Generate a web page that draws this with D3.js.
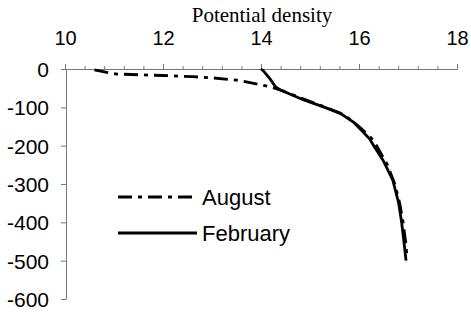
<!DOCTYPE html>
<meta charset="utf-8">
<body style="margin:0;background:#fff">
<style>
.tick text { font-family: "Liberation Sans", Arial, sans-serif; font-size: 20px; fill: #000; }
.axis path, .axis line { stroke: #777; stroke-width: 1px; }
.series { fill: none; stroke: #000; stroke-width: 2.8px; }
.legend text { font-family: "Liberation Sans", Arial, sans-serif; font-size: 22px; fill: #000; }
</style>
<script src="https://cdn.jsdelivr.net/npm/d3@7"></script>
<script>

// depth (m) and potential density for each month
var augustDepth   = [-2, -10, -13, -15, -17, -20, -23, -29, -36, -47, -55, -80, -100, -120, -150, -180, -200, -250, -300, -350, -400, -450, -490];
var augustDensity = [10.6, 10.9, 11.05, 11.5, 12.0, 12.6, 13.0, 13.5, 13.8, 14.2, 14.4, 14.9, 15.32, 15.7, 16.0, 16.25, 16.36, 16.58, 16.73, 16.83, 16.9, 16.95, 16.98];

var februaryDepth   = [0, -5, -25, -47, -55, -80, -100, -115, -140, -160, -183, -200, -238, -290, -350, -400, -454, -500];
var februaryDensity = [14.0, 14.05, 14.18, 14.3, 14.4, 14.86, 15.3, 15.61, 15.9, 16.05, 16.22, 16.3, 16.49, 16.69, 16.81, 16.87, 16.92, 16.96];

var xTicks = [10, 12, 14, 16, 18];
var yTicks = [0, -100, -200, -300, -400, -500, -600];
var seriesNames = ["August", "February"];

var width = 471, height = 314;

var svg = d3.select("body").append("svg")
    .attr("width", width)
    .attr("height", height);

var x = d3.scaleLinear().domain([10, 18]).range([65, 457]);
var y = d3.scaleLinear().domain([0, -600]).range([69, 299]);

// top axis: minor ticks every 0.4
var minor = d3.range(0, 21).map(function(i) { return 10 + i * 0.4; });
svg.append("g")
    .attr("class", "axis")
    .attr("transform", "translate(0," + y(0) + ")")
    .call(d3.axisTop(x).tickValues(minor).tickSize(3).tickFormat(""));

var xAxis = svg.append("g")
    .attr("class", "axis")
    .attr("transform", "translate(0," + y(0) + ")")
    .call(d3.axisTop(x).tickValues(xTicks).tickSize(5).tickPadding(19).tickSizeOuter(0));
xAxis.select(".domain").remove();

var yAxis = svg.append("g")
    .attr("class", "axis")
    .attr("transform", "translate(" + (x(10) + 1) + ",0)")
    .call(d3.axisLeft(y).tickValues(yTicks).tickSize(5).tickPadding(12).tickSizeOuter(0)
      .tickFormat(function(d) { return d === 0 ? "0" : "-" + Math.abs(d); }));
yAxis.selectAll(".tick text").attr("dy", "0.35em").style("font-size", "21px");
yAxis.select(".tick line").attr("x1", 0);

// axis title
svg.append("text")
    .attr("x", 262)
    .attr("y", 22)
    .attr("text-anchor", "middle")
    .style("font-family", "'Liberation Serif', 'Times New Roman', serif")
    .style("font-size", "21px")
    .text("Potential density");

var line = d3.line()
    .x(function(d) { return x(d[1]); })
    .y(function(d) { return y(d[0]); });

var aug = d3.zip(augustDepth, augustDensity);
var feb = d3.zip(februaryDepth, februaryDensity);
var dashes = ["14,6,4,6", null];

svg.append("path").datum(feb).attr("class", "series").attr("d", line);
svg.append("path").datum(aug).attr("class", "series")
    .attr("stroke-dasharray", dashes[0]).attr("d", line);

// legend
var legend = svg.append("g").attr("class", "legend");
seriesNames.forEach(function(name, i) {
  var ly = 197 + i * 36;
  legend.append("line")
      .attr("x1", 118).attr("x2", 197)
      .attr("y1", ly).attr("y2", ly)
      .attr("class", "series")
      .attr("stroke-dasharray", dashes[i]);
  legend.append("text")
      .attr("x", 202)
      .attr("y", ly + 8)
      .text(name);
});

</script>
